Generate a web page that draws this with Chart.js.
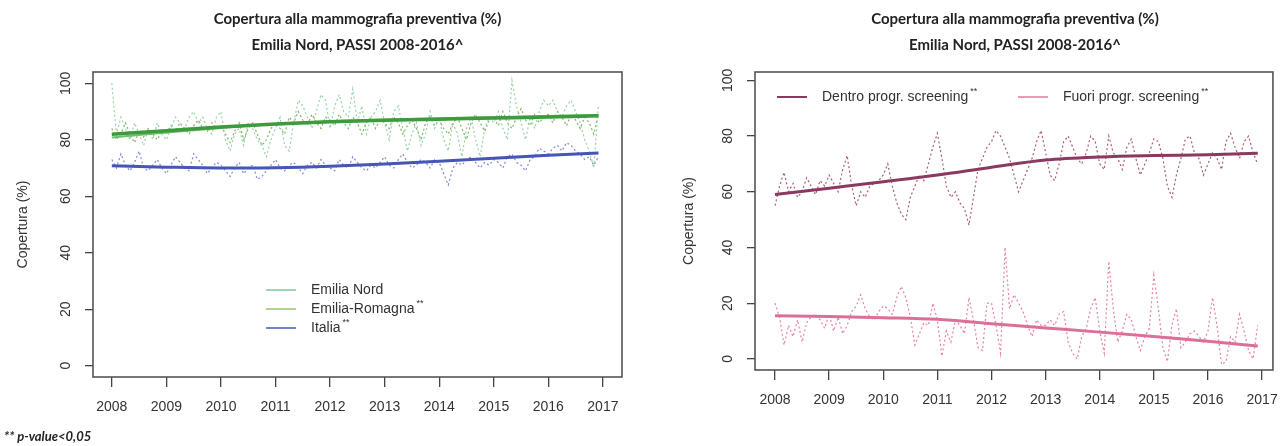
<!DOCTYPE html>
<html>
<head>
<meta charset="utf-8">
<script src="https://cdn.jsdelivr.net/npm/chart.js@4.4.1/dist/chart.umd.min.js"></script>
<style>
  body { margin: 0; background: #fff; width: 1283px; height: 446px; overflow: hidden; position: relative; }
  .box { position: absolute; top: 0; height: 430px; }
  #left { left: 0; width: 640px; }
  #right { left: 645px; width: 645px; }
  .title { position: absolute; top: 5px; text-align: center; font: bold 15px Lato, sans-serif; line-height: 26px; color: #222; }
  #note { position: absolute; left: 4px; top: 428px; font: italic bold 13px Lato, sans-serif; color: #222; }
</style>
</head>
<body>
<div class="box" id="left"><canvas id="chartLeft"></canvas></div>
<div class="box" id="right"><canvas id="chartRight"></canvas></div>
<div class="title" style="left:93px;width:529px">Copertura alla mammografia preventiva (%)<br>Emilia Nord, PASSI 2008-2016^</div>
<div class="title" style="left:755px;width:520px">Copertura alla mammografia preventiva (%)<br>Emilia Nord, PASSI 2008-2016^</div>
<div id="note">** p-value&lt;0,05</div>
<script>
// tick labels
var yearTicks = [2008, 2009, 2010, 2011, 2012, 2013, 2014, 2015, 2016, 2017];
var pctTicks = [0, 20, 40, 60, 80, 100];

// monthly values, Jan 2008 .. Dec 2016
var emiliaNord = [
  100, 82, 88, 84, 80, 86, 82, 78, 84, 80, 86, 82,
  80, 84, 88, 86, 84, 88, 90, 86, 88, 84, 82, 88,
  90, 80, 76, 82, 84, 78, 86, 84, 80, 78, 74, 80,
  84, 88, 78, 76, 86, 94, 92, 88, 84, 90, 96, 94,
  84, 92, 96, 90, 88, 98, 86, 92, 82, 88, 90, 94,
  86, 80, 90, 92, 84, 76, 82, 86, 78, 82, 90, 84,
  88, 80, 76, 86, 82, 74, 84, 88, 80, 74, 84, 88,
  86, 90, 84, 80, 101, 92, 86, 80, 88, 84, 90, 94,
  92, 94, 90, 88, 92, 94, 90, 86, 80, 76, 70, 92
];
var emiliaRomagna = [
  84, 80, 82, 86, 82, 79, 83, 81, 84, 82, 80, 83,
  82, 85, 83, 86, 84, 82, 85, 87, 84, 83, 86, 84,
  85, 82, 79, 83, 86, 80, 84, 86, 82, 78, 80, 84,
  86, 84, 82, 88, 86, 90, 87, 85, 89, 86, 84, 88,
  87, 85, 89, 86, 84, 88, 86, 82, 86, 88, 84, 87,
  86, 84, 88, 86, 82, 85, 87, 84, 80, 86, 88, 85,
  87, 84, 82, 86, 88, 84, 80, 86, 89, 86, 83, 87,
  88, 85, 90, 86, 84, 88, 91, 87, 85, 89, 86, 88,
  89, 86, 90, 88, 85, 89, 87, 84, 88, 86, 82, 89
];
var italia = [
  73, 70, 75, 71, 69, 72, 76, 70, 69, 71, 73, 70,
  68, 71, 74, 72, 70, 69, 75, 73, 71, 68, 70, 72,
  71, 69, 67, 70, 72, 68, 70, 71, 66, 67, 69, 71,
  73, 70, 69, 71, 72, 70, 68, 71, 72, 70, 73, 71,
  70, 69, 73, 71, 70, 74, 72, 70, 69, 71, 70, 72,
  74, 71, 70, 73, 75, 72, 70, 71, 73, 72, 70, 73,
  72, 68, 64, 70, 72, 71, 73, 74, 72, 70, 72, 71,
  73, 72, 70, 74, 75, 72, 71, 69, 73, 74, 77, 76,
  75, 77, 78, 76, 79, 78, 76, 75, 73, 74, 71, 74
];
var dentro = [
  55, 62, 67, 60, 63, 58, 60, 65, 62, 59, 64, 62,
  66, 63, 60, 68, 73, 62, 55, 60, 58, 62, 63, 64,
  66, 70, 62, 56, 52, 50, 58, 62, 66, 64, 70, 76,
  81, 72, 62, 58, 60, 56, 54, 48, 58, 68, 72, 76,
  78, 82, 80, 76, 72, 66, 60, 64, 68, 72, 78, 82,
  74, 66, 64, 70, 78, 80, 76, 72, 70, 74, 80, 78,
  70, 68, 80, 74, 72, 68, 76, 79, 72, 66, 70, 74,
  79, 78, 72, 62, 58, 66, 72, 79, 80, 74, 72, 66,
  70, 74, 72, 68, 78, 81, 76, 72, 78, 80, 74, 70
];
var fuori = [
  20, 15, 5, 12, 8, 14, 6, 13, 15, 16, 14, 11,
  16, 10, 15, 9, 12, 17, 19, 23, 18, 15, 14, 17,
  19, 18, 16, 22, 26, 22, 15, 5, 9, 13, 12, 20,
  14, 1, 10, 6, 14, 12, 9, 22, 14, 4, 3, 20,
  20, 12, 2, 40, 18, 23, 20, 17, 12, 8, 14, 12,
  12, 14, 12, 16, 17, 6, 2, 0, 8, 11, 18, 22,
  10, 2, 35, 18, 6, 10, 16, 14, 8, 3, 8, 11,
  30, 18, 4, -1, 12, 18, 4, 6, 9, 10, 8, 6,
  10, 22, 12, -2, -1, 8, 6, 16, 10, 3, 0, 12
];

// trend lines, read at a few points
var trendYears = [2008, 2009, 2010, 2011, 2012, 2013, 2014, 2015, 2016, 2016.92];
var trendNord = [80.8, 82.6, 84.2, 85.6, 86.6, 87.2, 87.6, 88.0, 88.4, 88.8];
var trendER = [82.0, 83.2, 84.5, 85.6, 86.4, 86.9, 87.3, 87.7, 88.1, 88.5];
var trendItalia = [70.8, 70.3, 70.0, 70.1, 70.6, 71.4, 72.4, 73.5, 74.5, 75.3];
var trendDentro = [59.0, 61.3, 63.6, 66.0, 68.8, 71.4, 72.5, 73.0, 73.3, 73.8];
var trendFuori = [15.5, 15.2, 14.8, 14.2, 12.6, 11.1, 9.6, 8.0, 6.3, 4.6];

function monthly(values) {
  return values.map(function (v, i) { return { x: 2008 + i / 12, y: v }; });
}
function knots(values) {
  return values.map(function (v, i) { return { x: trendYears[i], y: v }; });
}
function dotted(label, values, color) {
  return { label: label, data: monthly(values), borderColor: color, borderWidth: 1.2,
    borderDash: [2, 2.5], pointRadius: 0, tension: 0, order: 2 };
}
function trend(label, values, color, width) {
  return { label: label, data: knots(values), borderColor: color, borderWidth: width,
    pointRadius: 0, cubicInterpolationMode: 'monotone', order: 1 };
}

var tickFont = { family: '"Liberation Sans", Arial, sans-serif', size: 14 };

function makeScales(xmin, xmax, ymin, ymax, yWidth, xHeight, titlePad) {
  return {
    x: {
      type: 'linear', min: xmin, max: xmax,
      afterBuildTicks: function (axis) { axis.ticks = yearTicks.map(function (v) { return { value: v }; }); },
      afterFit: function (axis) { axis.height = xHeight; },
      grid: { drawOnChartArea: false, tickLength: 10, color: '#444', lineWidth: 1.3 },
      border: { display: false },
      ticks: { autoSkip: false, maxRotation: 0, padding: 12, color: '#333', font: tickFont,
        callback: function (v) { return String(v); } }
    },
    y: {
      min: ymin, max: ymax,
      afterBuildTicks: function (axis) { axis.ticks = pctTicks.map(function (v) { return { value: v }; }); },
      afterFit: function (axis) { axis.width = yWidth; },
      grid: { drawOnChartArea: false, tickLength: 8, color: '#444', lineWidth: 1.3 },
      border: { display: false },
      ticks: { minRotation: 90, maxRotation: 90, crossAlign: 'center', padding: 7, color: '#333', font: tickFont,
        callback: function (v) { return String(v); } },
      title: { display: true, text: 'Copertura (%)', color: '#333', font: tickFont, padding: { top: titlePad, bottom: 0 } }
    }
  };
}

// frame around the plot area, as R draws it
var framePlugin = {
  id: 'frame',
  afterDraw: function (chart) {
    var a = chart.chartArea, ctx = chart.ctx;
    ctx.save();
    ctx.strokeStyle = '#555';
    ctx.lineWidth = 1.6;
    ctx.strokeRect(a.left, a.top, a.right - a.left, a.bottom - a.top);
    ctx.restore();
  }
};

// legend drawn inside the plot
var insideLegend = {
  id: 'insideLegend',
  afterDraw: function (chart, args, opts) {
    var ctx = chart.ctx;
    ctx.save();
    opts.items.forEach(function (it) {
      ctx.strokeStyle = it.color;
      ctx.lineWidth = it.width;
      ctx.beginPath();
      ctx.moveTo(it.x, it.y);
      ctx.lineTo(it.x + 30, it.y);
      ctx.stroke();
      ctx.font = '14px "Liberation Sans", Arial, sans-serif';
      ctx.fillStyle = '#333';
      ctx.textBaseline = 'middle';
      ctx.fillText(it.text, it.x + 45, it.y);
      if (it.sup) {
        var w = ctx.measureText(it.text).width;
        ctx.font = '9px "Liberation Sans", Arial, sans-serif';
        ctx.fillText('**', it.x + 47 + w, it.y - 5);
      }
    });
    ctx.restore();
  }
};

Chart.defaults.animation = false;

new Chart(document.getElementById('chartLeft').getContext('2d'), {
  type: 'line',
  data: {
    datasets: [
      trend('Emilia-Romagna trend', trendER, '#3d9a3d', 3.5),
      trend('Emilia Nord trend', trendNord, '#6cbf6c', 2),
      trend('Italia trend', trendItalia, '#4656b4', 3),
      dotted('Emilia Nord', emiliaNord, '#96d4a6'),
      dotted('Emilia-Romagna', emiliaRomagna, '#80b464'),
      dotted('Italia', italia, '#7e8dd6')
    ]
  },
  options: {
    responsive: true,
    maintainAspectRatio: false,
    layout: { padding: { top: 72, right: 18, bottom: 0, left: 0 } },
    scales: makeScales(2007.655, 2017.35, -4, 104, 93, 53, 15),
    plugins: {
      legend: { display: false },
      tooltip: { enabled: false },
      insideLegend: { items: [
        { x: 266, y: 290, text: 'Emilia Nord', color: '#9ad8b2', width: 2 },
        { x: 266, y: 309, text: 'Emilia-Romagna', sup: true, color: '#b2d294', width: 2 },
        { x: 266, y: 328, text: 'Italia', sup: true, color: '#7282cc', width: 2 }
      ] }
    }
  },
  plugins: [framePlugin, insideLegend]
});

new Chart(document.getElementById('chartRight').getContext('2d'), {
  type: 'line',
  data: {
    datasets: [
      trend('Dentro trend', trendDentro, '#8a3a60', 3),
      trend('Fuori trend', trendFuori, '#dc6f9a', 3),
      dotted('Dentro progr. screening', dentro, '#aa5c78'),
      dotted('Fuori progr. screening', fuori, '#e680aa')
    ]
  },
  options: {
    responsive: true,
    maintainAspectRatio: false,
    layout: { padding: { top: 72, right: 15, bottom: 0, left: 0 } },
    scales: makeScales(2007.63, 2017.2, -4, 103, 110, 60, 36),
    plugins: {
      legend: { display: false },
      tooltip: { enabled: false },
      insideLegend: { items: [
        { x: 132, y: 97, text: 'Dentro progr. screening', sup: true, color: '#8a3a60', width: 2 },
        { x: 373, y: 97, text: 'Fuori progr. screening', sup: true, color: '#e07aa2', width: 1.5 }
      ] }
    }
  },
  plugins: [framePlugin, insideLegend]
});
</script>
</body>
</html>
